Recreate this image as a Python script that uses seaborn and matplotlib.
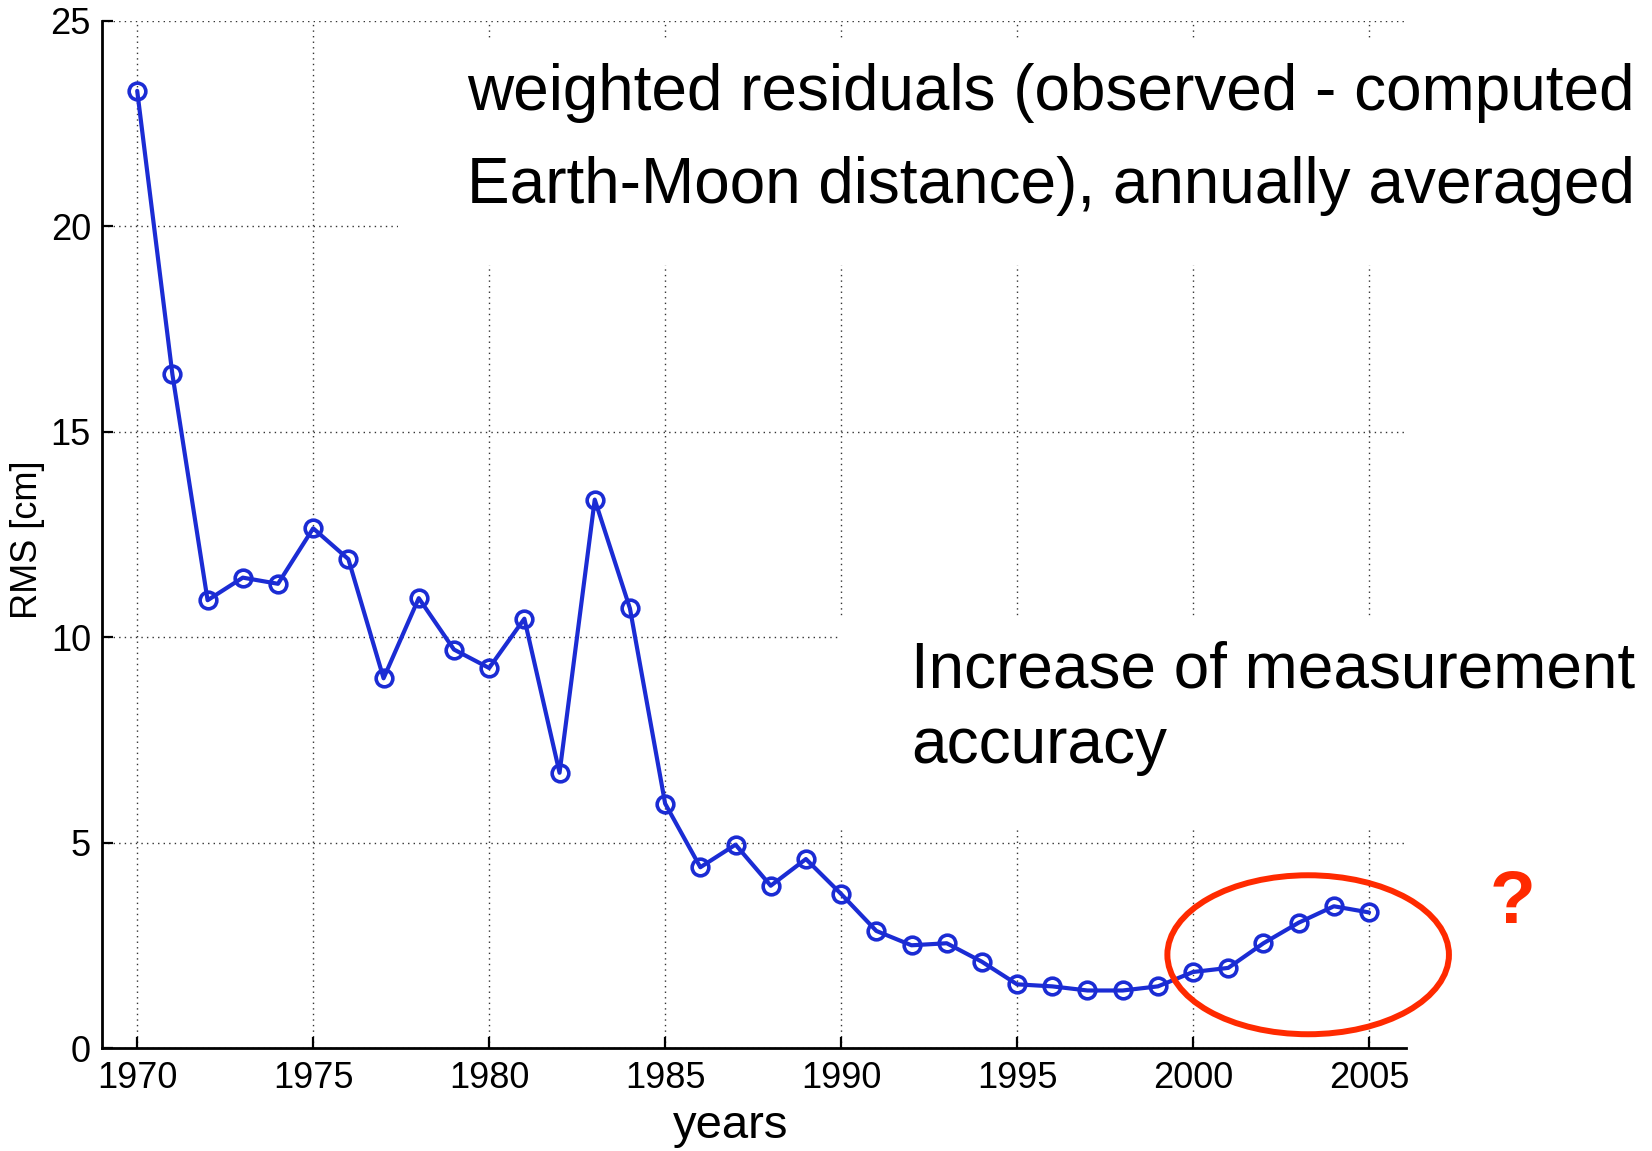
import matplotlib
matplotlib.use("Agg")
import matplotlib.pyplot as plt
from matplotlib.patches import Ellipse, Rectangle
import seaborn as sns

# annual RMS of the weighted residuals
years = list(range(1970, 2006))
rms_cm = [23.3, 16.4, 10.9, 11.45, 11.3, 12.65, 11.9, 9.0, 10.95, 9.7,
          9.25, 10.45, 6.7, 13.35, 10.7, 5.95, 4.4, 4.95, 3.95, 4.6,
          3.75, 2.85, 2.5, 2.55, 2.1, 1.55, 1.5, 1.4, 1.4, 1.5,
          1.85, 1.95, 2.55, 3.05, 3.45, 3.3]

x_ticks = [1970, 1975, 1980, 1985, 1990, 1995, 2000, 2005]
y_ticks = [0, 5, 10, 15, 20, 25]

title_lines = ["weighted residuals (observed - computed",
               "Earth-Moon distance), annually averaged"]
note_lines = ["Increase of measurement", "accuracy"]

W, H = 1652, 1151
BLUE = "#1b2cd4"
RED = "#ff2a00"

sns.set_style("ticks")
plt.rcParams["font.family"] = ["Liberation Sans", "DejaVu Sans"]
plt.rcParams["text.color"] = "black"
plt.rcParams["axes.labelcolor"] = "black"

fig = plt.figure(figsize=(W / 100, H / 100), dpi=100)
ax = fig.add_axes([102 / W, 1 - 1048 / H, 1304 / W, 1027 / H])

sns.lineplot(x=years, y=rms_cm, ax=ax, color=BLUE, linewidth=3.0,
             marker="o", markersize=12, markerfacecolor="none",
             markeredgecolor=BLUE, markeredgewidth=2.6, zorder=3)

ax.set_xlim(1969, 2006.05)
ax.set_ylim(0, 25)
ax.set_xticks(x_ticks)
ax.set_yticks(y_ticks)
ax.set_axisbelow(True)
ax.grid(True, linestyle=(0, (1, 3)), color="0.2", linewidth=1.0)

for side in ["top", "right"]:
    ax.spines[side].set_visible(False)
for side in ["left", "bottom"]:
    ax.spines[side].set_linewidth(2.0)
    ax.spines[side].set_color("black")
ax.tick_params(direction="in", length=8, width=1.6, labelsize=26,
               colors="black")
ax.tick_params(axis="x", pad=9)
ax.tick_params(axis="y", pad=8)

ax.set_xlabel("years", fontsize=34)
ax.xaxis.set_label_coords(0.482, -0.055)
ax.xaxis.label.set_va("top")
ax.set_ylabel("RMS [cm]", fontsize=26)
ax.yaxis.set_label_coords(-0.0437, 0.495)

# white areas behind the two text blocks hide the grid there
ax.add_patch(Rectangle((398 / W, 1 - 265 / H), 1 - 398 / W, 225 / H,
                       transform=fig.transFigure, facecolor="white",
                       edgecolor="none", zorder=1, clip_on=False))
ax.add_patch(Rectangle((840 / W, 1 - 827 / H), 1 - 840 / W, 210 / H,
                       transform=fig.transFigure, facecolor="white",
                       edgecolor="none", zorder=1, clip_on=False))

fig.text(467 / W, 1 - 110 / H, title_lines[0], fontsize=46, va="baseline")
fig.text(467 / W, 1 - 203 / H, title_lines[1], fontsize=46, va="baseline")
fig.text(911 / W, 1 - 687 / H, note_lines[0], fontsize=46, va="baseline")
fig.text(911 / W, 1 - 763 / H, note_lines[1], fontsize=46, va="baseline")
fig.text(1513 / W, 1 - 923 / H, "?", fontsize=54, fontweight="bold",
         color=RED, ha="center", va="baseline")

ax.add_patch(Ellipse((2003.27, 2.27), 8.0, 3.87, fill=False, edgecolor=RED,
                     linewidth=4.3, zorder=4, clip_on=False))

fig.savefig("out.png", dpi=100)
